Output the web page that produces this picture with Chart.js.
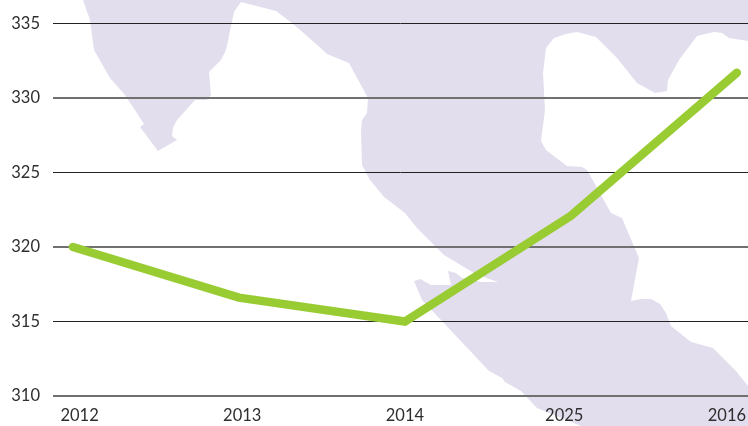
<!DOCTYPE html>
<html>
<head>
<meta charset="utf-8">
<style>
  html, body { margin: 0; padding: 0; background: #fff; }
  #wrap { width: 748px; height: 426px; }
</style>
<script src="https://cdn.jsdelivr.net/npm/chart.js@4"></script>
</head>
<body>
<div id="wrap"><canvas id="chart"></canvas></div>
<script>
const years = ['2012', '2013', '2014', '2025', '2016']
const values = [320, 316.6, 315, 322.1, 331.7]
const yTicks = [310, 315, 320, 325, 330, 335]
// the year labels do not sit exactly under their points in the original
const yearTickSpots = [0.04, 1.02, 2, 2.96, 3.94]

// background map outline, canvas pixels
const mapOutline = [
  [83, 0], [90, 20], [94, 50], [110, 78], [125, 95], [144, 124], [140, 127], [158, 151], [177, 140],
  [172, 136], [173, 128], [177, 120], [195, 100], [207, 100], [211, 95], [209, 72], [221, 60], [226, 50],
  [234, 12], [241, 2], [276, 11], [292, 23], [315, 43], [327, 54], [349, 63], [368, 98], [367, 113],
  [362, 120], [361, 130], [362, 165], [370, 180], [384, 197], [405, 213], [417, 228], [444, 255],
  [474, 273], [489, 279], [498, 282], [481, 282], [462, 278], [456, 273], [448, 271], [451, 285],
  [431, 285], [420, 279], [414, 281], [422, 300], [441, 320], [489, 371], [502, 378], [505, 382],
  [521, 391], [537, 408], [581, 426], [748, 426], [748, 386], [736, 371], [713, 348], [691, 342],
  [671, 326], [666, 313], [660, 304], [651, 299], [641, 299], [631, 301], [639, 258], [622, 218], [611, 213],
  [587, 170], [582, 167], [567, 166], [546, 150], [541, 141], [545, 110], [543, 73], [546, 48],
  [554, 38], [566, 34], [577, 32], [596, 37], [617, 58], [637, 83], [655, 93], [667, 91], [668, 80],
  [679, 60], [697, 36], [714, 32], [722, 33], [729, 38], [748, 41], [748, 0],
]

const mapBackground = {
  id: 'mapBackground',
  beforeDraw(chart) {
    const { ctx } = chart
    ctx.save()
    ctx.fillStyle = '#e3deee'
    ctx.beginPath()
    mapOutline.forEach(([x, y], i) => (i ? ctx.lineTo(x, y) : ctx.moveTo(x, y)))
    ctx.closePath()
    ctx.fill()
    ctx.restore()
  },
}

function noScalePadding(axis) {
  axis.paddingLeft = 0
  axis.paddingRight = 0
  axis.paddingTop = 0
  axis.paddingBottom = 0
}

new Chart(document.getElementById('chart'), {
  type: 'line',
  data: {
    datasets: [
      {
        data: values.map((value, i) => ({ x: i, y: value })),
        borderColor: '#99cc33',
        borderWidth: 8.5,
        borderCapStyle: 'round',
        borderJoinStyle: 'miter',
        pointRadius: 0,
        tension: 0,
        clip: false,
      },
    ],
  },
  plugins: [mapBackground],
  options: {
    responsive: true,
    maintainAspectRatio: false,
    animation: false,
    layout: { padding: 0 },
    plugins: {
      legend: { display: false },
      tooltip: { enabled: false },
    },
    scales: {
      x: {
        type: 'linear',
        min: -0.12,
        max: 4.067,
        afterBuildTicks: (axis) => {
          axis.ticks = yearTickSpots.map((value) => ({ value }))
        },
        afterFit: (axis) => {
          axis.height = 30
          noScalePadding(axis)
        },
        border: { display: false },
        grid: { display: false },
        ticks: {
          color: '#2e2e2e',
          font: { family: 'Lato', size: 16.5 },
          padding: 2,
          maxRotation: 0,
          autoSkip: false,
          callback: (value, index) => years[index],
        },
      },
      y: {
        min: 310,
        max: 336.58,
        afterBuildTicks: (axis) => {
          axis.ticks = yTicks.map((value) => ({ value }))
        },
        afterFit: (axis) => {
          axis.width = 53
          noScalePadding(axis)
        },
        border: { display: false },
        grid: {
          color: (context) => (context.tick.value % 10 === 0 ? '#707070' : '#222222'),
          lineWidth: (context) => (context.tick.value % 10 === 0 ? 2 : 1),
          drawTicks: false,
        },
        ticks: {
          color: '#2e2e2e',
          font: { family: 'Lato', size: 16.5 },
          padding: 13,
          autoSkip: false,
          callback: (value) => String(value),
        },
      },
    },
  },
})
</script>
</body>
</html>
